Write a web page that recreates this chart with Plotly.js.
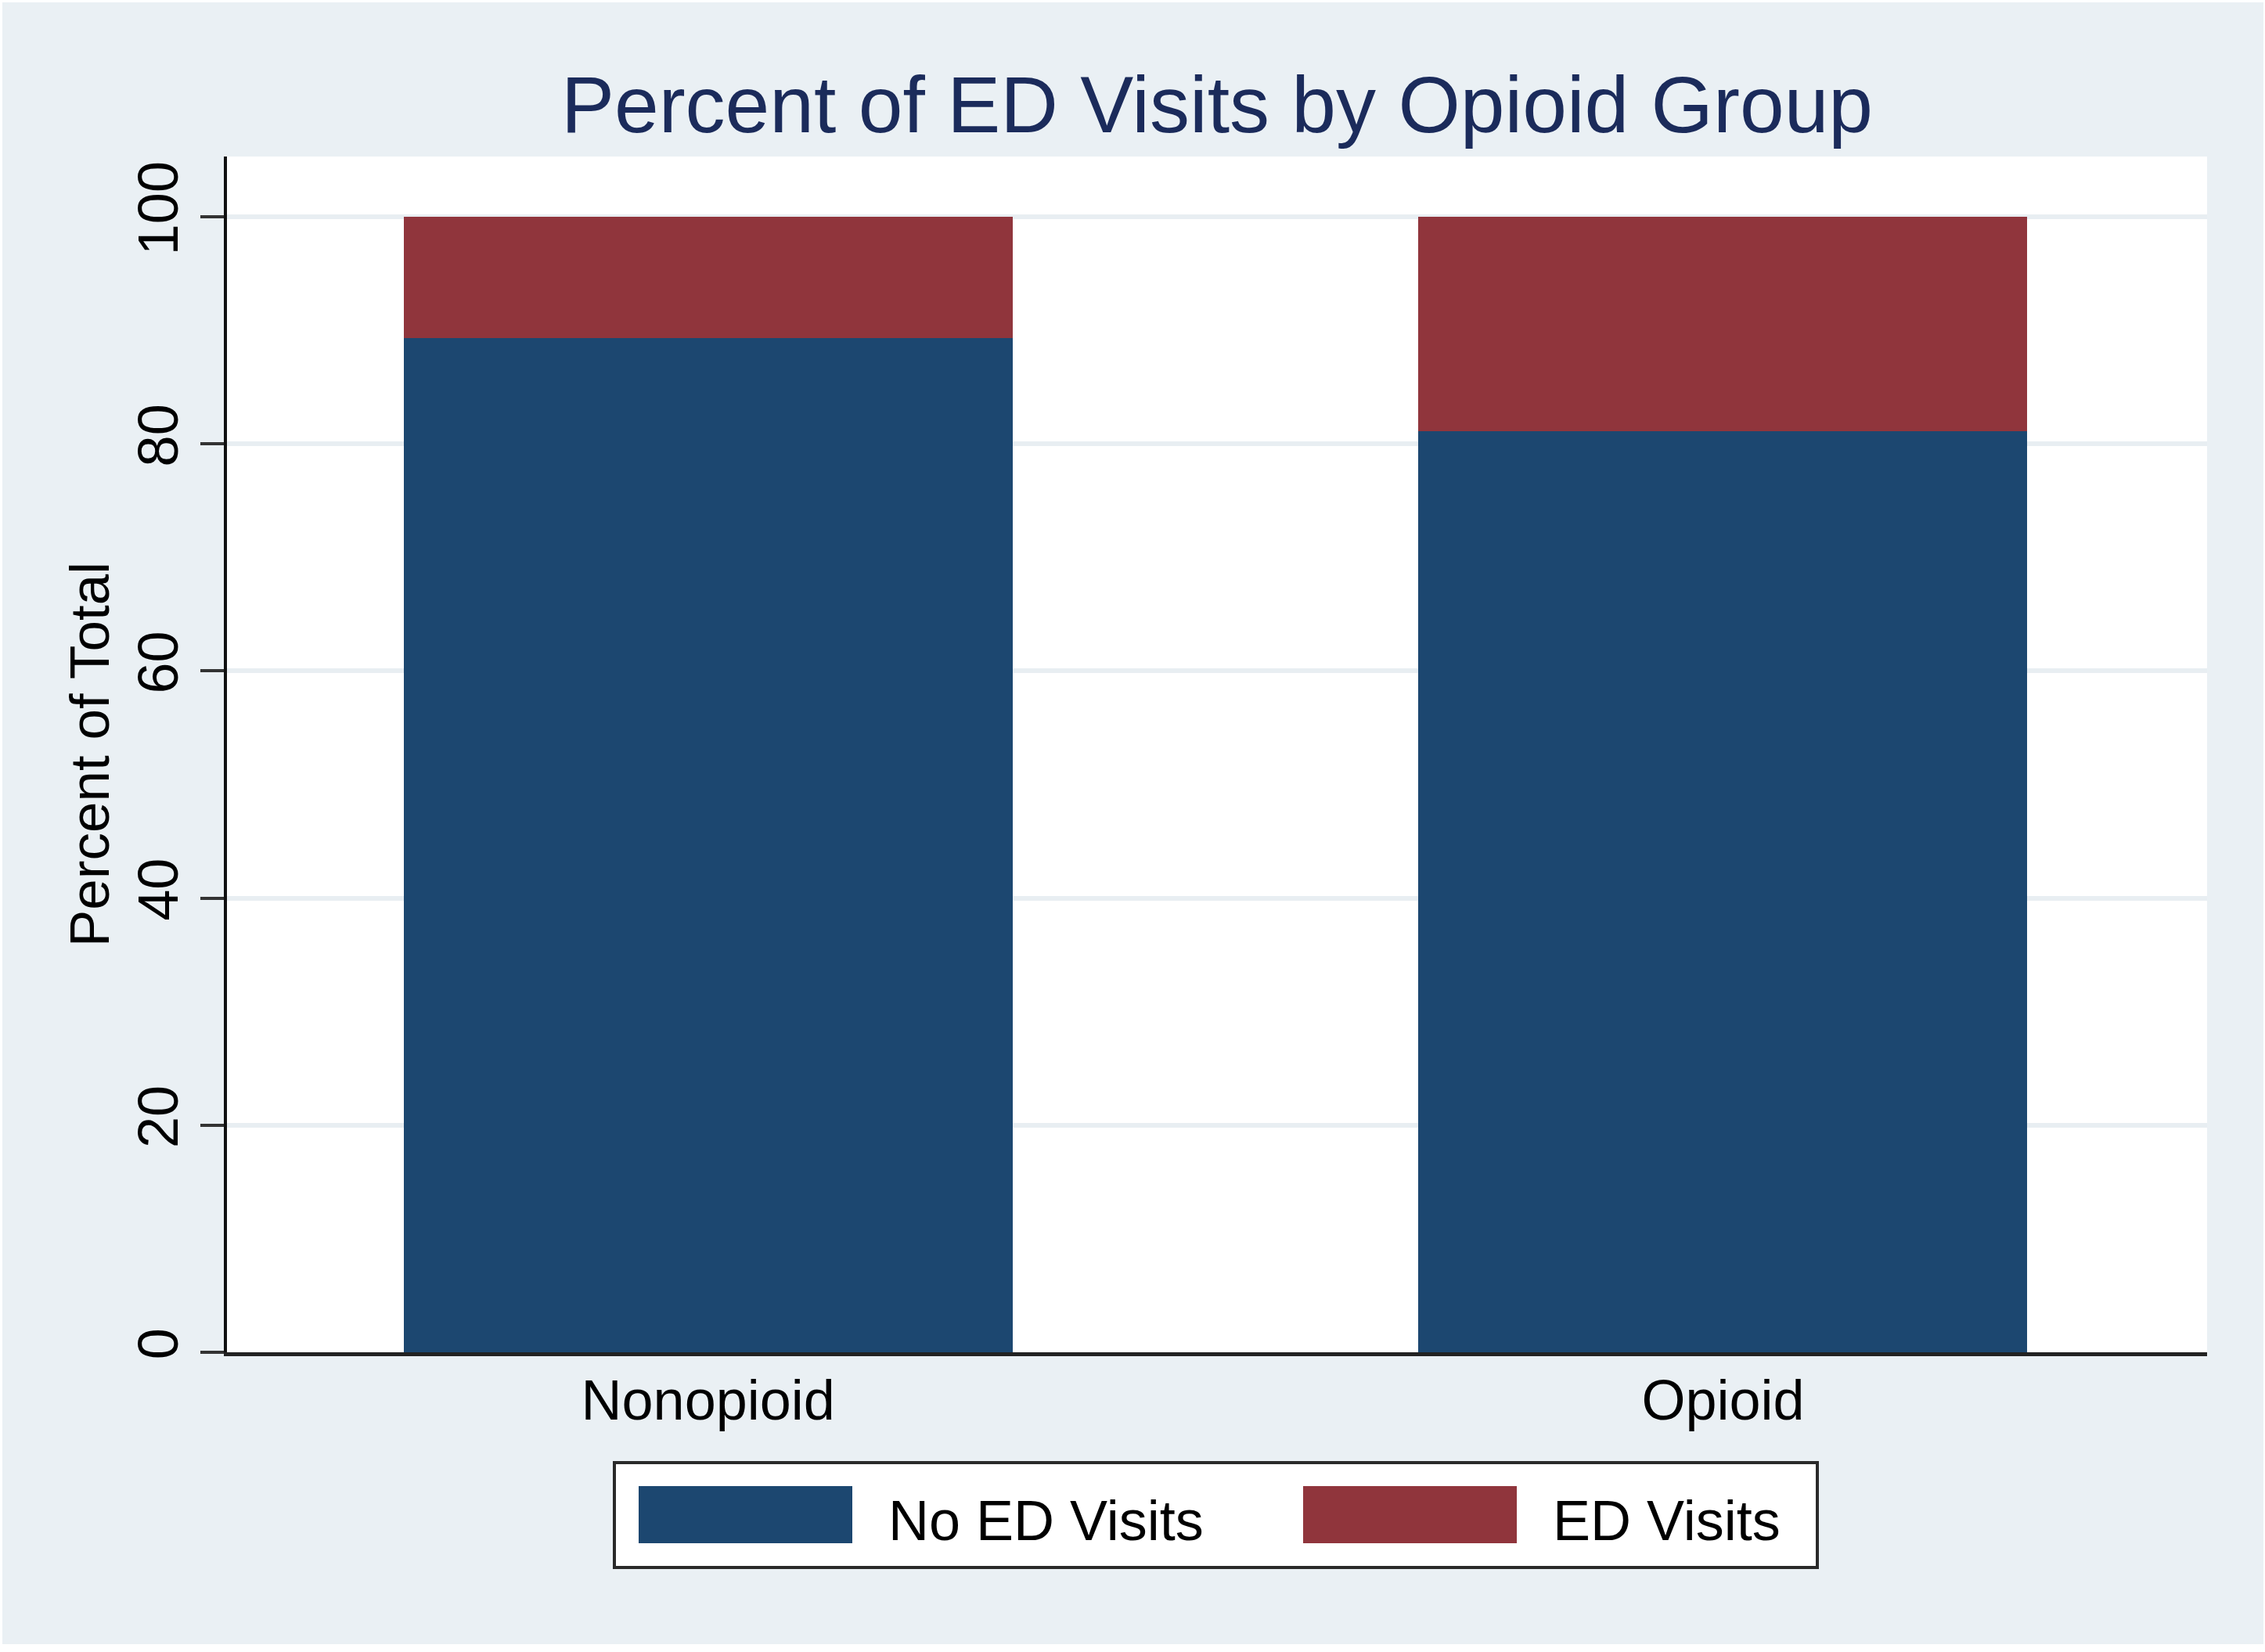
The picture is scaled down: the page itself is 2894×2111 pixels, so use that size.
<!DOCTYPE html>
<html>
<head>
<meta charset="utf-8">
<script src="https://cdn.plot.ly/plotly-3.0.1.min.js"></script>
<style>
  html, body { margin: 0; padding: 0; background: #ffffff; }
  #chart { position: absolute; left: 3px; top: 3px; width: 2889px; height: 2098px; }
</style>
</head>
<body>
<div id="chart"></div>
<script>
// ---- data ----
const categories = ["Nonopioid", "Opioid"];
const noEdVisits = [89.3, 81.1];
const edVisits = [10.7, 18.9];
const seriesNames = ["No ED Visits", "ED Visits"];
const yTickValues = [0, 20, 40, 60, 80, 100];
const chartTitle = "Percent of ED Visits by Opioid Group";
const yTitle = "Percent of Total";

// ---- styling ----
const NAVY = "#1c4770";
const MAROON = "#90353c";
const BG = "#eaf0f4";
const FONT = "Liberation Sans, Arial, Helvetica, sans-serif";

const W = 2889, H = 2098;
const M = { l: 287, r: 72, t: 197, b: 373 };
const PW = W - M.l - M.r, PH = H - M.t - M.b;
const px = v => (v - M.l) / PW;          // pixel -> paper x
const py = v => (H - M.b - v) / PH;      // pixel -> paper y

const traces = [
  { type: "bar", x: categories, y: noEdVisits, name: seriesNames[0],
    marker: { color: NAVY, line: { width: 0 } }, width: 0.6, hoverinfo: "skip" },
  { type: "bar", x: categories, y: edVisits, name: seriesNames[1],
    marker: { color: MAROON, line: { width: 0 } }, width: 0.6, hoverinfo: "skip" }
];

// legend drawn as shapes + annotations to match the large swatches
const legendShapes = [
  { type: "rect", xref: "paper", yref: "paper", x0: px(782), x1: px(2319), y0: py(2000), y1: py(1866),
    fillcolor: "#ffffff", line: { color: "#2a2a2a", width: 4 }, layer: "above" },
  { type: "rect", xref: "paper", yref: "paper", x0: px(813), x1: px(1086), y0: py(1969), y1: py(1896),
    fillcolor: NAVY, line: { width: 0 }, layer: "above" },
  { type: "rect", xref: "paper", yref: "paper", x0: px(1662), x1: px(1935), y0: py(1969), y1: py(1896),
    fillcolor: MAROON, line: { width: 0 }, layer: "above" }
];
const legendAnn = [
  { xref: "paper", yref: "paper", x: px(1130), y: py(1940), xanchor: "left", yanchor: "middle",
    text: seriesNames[0], showarrow: false, font: { family: FONT, size: 72, color: "#000" } },
  { xref: "paper", yref: "paper", x: px(1979), y: py(1940), xanchor: "left", yanchor: "middle",
    text: seriesNames[1], showarrow: false, font: { family: FONT, size: 72, color: "#000" } }
];

const layout = {
  width: W, height: H,
  margin: M,
  paper_bgcolor: BG,
  plot_bgcolor: "#ffffff",
  barmode: "stack",
  showlegend: false,
  font: { family: FONT, color: "#000" },
  title: {
    text: chartTitle,
    font: { family: FONT, size: 102, color: "#1b2b5b" },
    xref: "paper", x: 0.5, xanchor: "center",
    yref: "container", y: 1 - 130 / H, yanchor: "middle"
  },
  xaxis: {
    type: "category",
    range: [-0.474, 1.477],
    showline: true, linecolor: "#222", linewidth: 5,
    ticks: "", showgrid: false, zeroline: false,
    tickfont: { family: FONT, size: 72, color: "#000" },
    ticklabelstandoff: -5
  },
  yaxis: {
    range: [0, 105.3],
    tickvals: yTickValues,
    ticktext: yTickValues.map(String),
    tickangle: -90,
    ticks: "outside", ticklen: 30, tickwidth: 4, tickcolor: "#333",
    showline: true, linecolor: "#111", linewidth: 4,
    showgrid: true, gridcolor: "#e8eef2", gridwidth: 6,
    zeroline: false,
    tickfont: { family: FONT, size: 72, color: "#000" },
    title: { text: yTitle, font: { family: FONT, size: 71, color: "#000" }, standoff: 0 }
  },
  shapes: legendShapes,
  annotations: legendAnn
};

Plotly.newPlot("chart", traces, layout, { staticPlot: true, displayModeBar: false });
</script>
</body>
</html>
